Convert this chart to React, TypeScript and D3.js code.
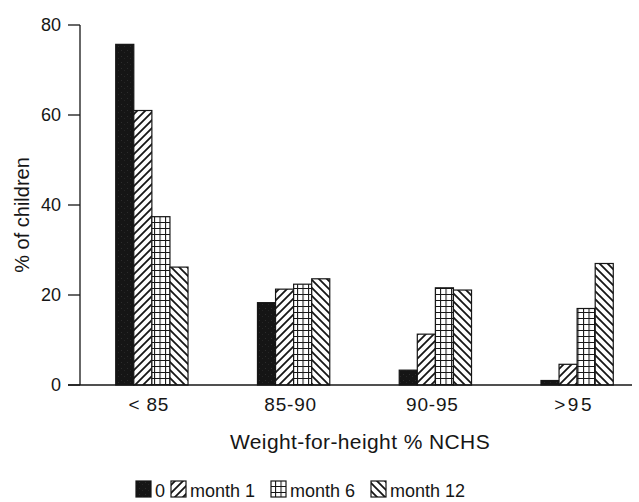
import React from "react";
import * as d3 from "d3";

const categories = ["< 85", "85-90", "90-95", ">95"];
const seriesNames = ["0", "month 1", "month 6", "month 12"];
const month0 = [75.7, 18.3, 3.3, 1.0];
const month1 = [61.0, 21.3, 11.3, 4.6];
const month6 = [37.4, 22.4, 21.6, 17.0];
const month12 = [26.2, 23.6, 21.1, 27.0];
const yTicks = [0, 20, 40, 60, 80];
const xTitle = "Weight-for-height % NCHS";
const yTitle = "% of children";

const seriesValues = [month0, month1, month6, month12];
const fills = ["url(#pBlack)", "url(#pFwd)", "url(#pGrid)", "url(#pBack)"];

const W = 639;
const H = 502;
const axisX = 80;
const baseY = 385;
const topY = 25;
const FONT = "'Liberation Sans', Arial, Helvetica, sans-serif";
const INK = "#161616";

export default function App() {
  const y = d3.scaleLinear().domain([0, 80]).range([baseY, topY]);
  const x = d3
    .scaleBand<string>()
    .domain(categories)
    .range([81, 648])
    .paddingInner(0.49)
    .paddingOuter(0.245);
  const xi = d3
    .scaleBand<string>()
    .domain(seriesNames)
    .range([0, x.bandwidth()])
    .padding(0);

  const legendX = [136, 171, 271, 371];
  const legendY = 481;
  const boxW = 15;
  const boxH = 16;

  return (
    <svg
      width={W}
      height={H}
      style={{ position: "absolute", left: 0, top: 0, background: "#fff" }}
      fontFamily={FONT}
    >
      <defs>
        <pattern id="pBlack" patternUnits="userSpaceOnUse" width={6} height={6}>
          <rect width={6} height={6} fill="#151515" />
          <rect x={1} y={2} width={1} height={1} fill="#2c2c2c" />
          <rect x={4} y={4} width={1} height={1} fill="#262626" />
        </pattern>
        <pattern id="pFwd" patternUnits="userSpaceOnUse" width={8} height={8}>
          <rect width={8} height={8} fill="#fff" />
          <path
            d="M0,8 L8,0 M-2,2 L2,-2 M6,10 L10,6"
            stroke={INK}
            strokeWidth={1.8}
          />
        </pattern>
        <pattern id="pBack" patternUnits="userSpaceOnUse" width={8} height={8}>
          <rect width={8} height={8} fill="#fff" />
          <path
            d="M0,0 L8,8 M-2,6 L2,10 M6,-2 L10,2"
            stroke={INK}
            strokeWidth={1.8}
          />
        </pattern>
        <pattern id="pGrid" patternUnits="userSpaceOnUse" width={5.5} height={6}>
          <rect width={5.5} height={6} fill="#fff" />
          <path d="M0.5,0 L0.5,6 M0,0.5 L5.5,0.5" stroke={INK} strokeWidth={1.1} />
        </pattern>
      </defs>

      {/* y axis */}
      <line x1={axisX} x2={axisX} y1={topY} y2={baseY} stroke={INK} strokeWidth={1.3} />
      {yTicks.map((t) => (
        <g key={t}>
          <line x1={68} x2={axisX} y1={y(t)} y2={y(t)} stroke={INK} strokeWidth={1.3} />
          <text
            x={61}
            y={y(t)}
            dy="0.35em"
            textAnchor="end"
            fontSize={18}
            fill={INK}
          >
            {t}
          </text>
        </g>
      ))}
      <text
        transform={`translate(29,${(y(0) + y(80)) / 2 + 10}) rotate(-90)`}
        textAnchor="middle"
        fontSize={20}
        fill={INK}
      >
        {yTitle}
      </text>

      {/* bars */}
      {categories.map((c, ci) => (
        <g key={c}>
          {seriesNames.map((s, si) => {
            const v = seriesValues[si][ci];
            const x0 = (x(c) as number) + (xi(s) as number);
            return (
              <rect
                key={s}
                x={x0}
                y={y(v)}
                width={xi.bandwidth()}
                height={y(0) - y(v)}
                fill={fills[si]}
                stroke={INK}
                strokeWidth={1.2}
              />
            );
          })}
          <text
            x={(x(c) as number) + x.bandwidth() / 2 - 3}
            y={411}
            textAnchor="middle"
            fontSize={19}
            fill={INK}
            letterSpacing={c === ">95" ? 2.5 : 0.8}
          >
            {c}
          </text>
        </g>
      ))}

      {/* x baseline */}
      <line x1={68} x2={632} y1={baseY} y2={baseY} stroke={INK} strokeWidth={1.3} />

      <text
        x={360}
        y={449}
        textAnchor="middle"
        fontSize={21}
        letterSpacing={0.4}
        fill={INK}
      >
        {xTitle}
      </text>

      {/* legend */}
      {seriesNames.map((s, si) => (
        <g key={s}>
          <rect
            x={legendX[si]}
            y={legendY}
            width={boxW}
            height={boxH}
            fill={fills[si]}
            stroke={INK}
            strokeWidth={1.2}
          />
          <text x={legendX[si] + boxW + 4} y={legendY + boxH} fontSize={18} fill={INK}>
            {s}
          </text>
        </g>
      ))}
    </svg>
  );
}
